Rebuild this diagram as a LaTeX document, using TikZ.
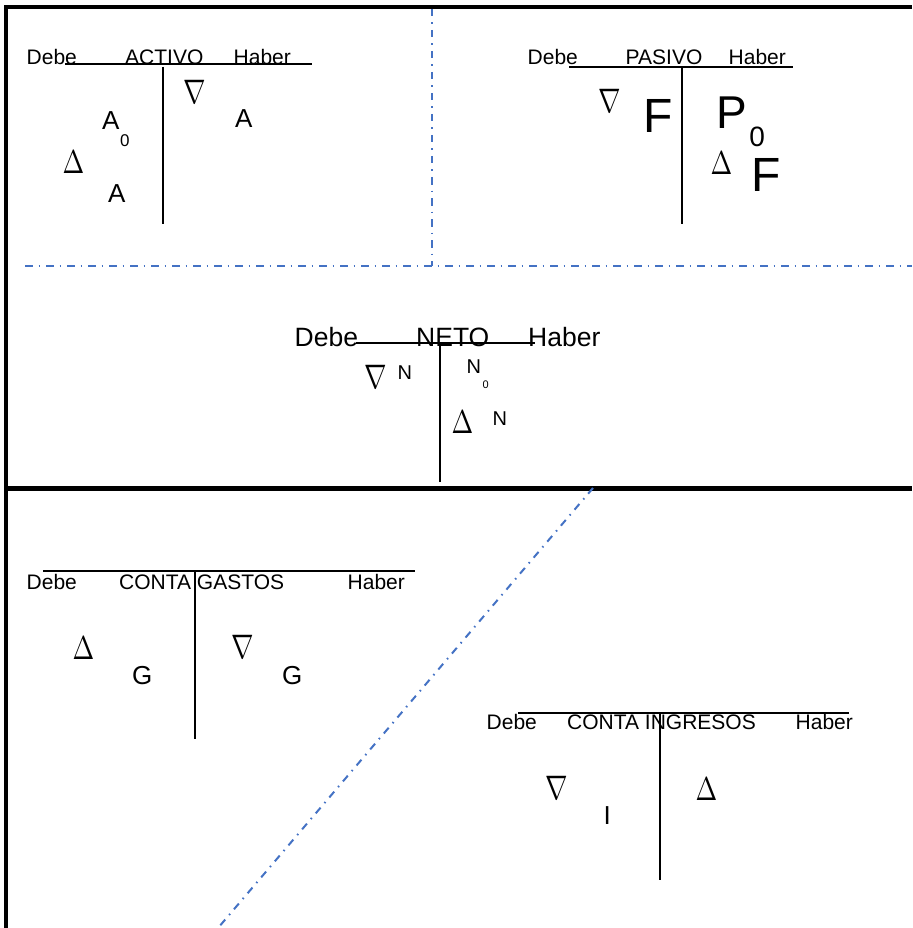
\documentclass[tikz,border=0pt]{standalone}
\usepackage{fontspec}
\setmainfont{Liberation Sans}
\usepackage{graphicx}
\definecolor{guideblue}{RGB}{68,114,196}
% increase / decrease signs
\newcommand\incsym{\scalebox{2.6}[3.3]{$\Delta$}}
\newcommand\decsym{\scalebox{2.7}[3.4]{$\nabla$}}
\tikzset{
  boxrule/.style={line width=4pt},
  guideline/.style={draw=guideblue, line width=2pt, dash pattern=on 7.5pt off 6pt on 1.5pt off 6pt},
  tbar/.style={line width=1.8pt},
  hdr/.style={anchor=base west, inner sep=0pt, font=\fontsize{21}{25}\selectfont},
  hdrbig/.style={anchor=base west, inner sep=0pt, font=\fontsize{26.5}{30}\selectfont},
  sym/.style={inner sep=0pt},
  var/.style={anchor=base west, inner sep=0pt, font=\fontsize{26}{30}\selectfont},
  varsmall/.style={anchor=base west, inner sep=0pt, font=\fontsize{20}{24}\selectfont},
  varhuge/.style={anchor=base west, inner sep=0pt, font=\fontsize{48}{52}\selectfont},
}
\begin{document}
\begin{tikzpicture}[x=1pt,y=-1pt]
\useasboundingbox (0,0) rectangle (912,928);

% outer frame and separator
\draw[boxrule] (912,7) -- (6,7) -- (6,928);
\draw[boxrule, line width=5pt] (6,488.5) -- (912,488.5);

% dash-dot guides
\draw[guideline] (432,9) -- (432,266);
\draw[guideline] (25,266) -- (912,266);
\draw[guideline] (593,488) -- (218,928);

% ---------- ACTIVO ----------
\draw[tbar] (65,64) -- (312,64);
\draw[tbar] (163,67) -- (163,224);
\node[hdr] (a-debe) at (26.5,65) {Debe};
\node[hdr] (a-tit) at (125,65) {ACTIVO};
\node[hdr] (a-haber) at (233.5,65) {Haber};
\node[sym] (a-dec) at (195,92) {\decsym};
\node[sym] (a-inc) at (73.5,162) {\incsym};
\node[var] (a-ini) at (102,130) {A\kern0.5pt\raisebox{-17pt}{\fontsize{17}{17}\selectfont 0}};
\node[var] (a-right) at (235,128) {A};
\node[var] (a-left) at (108,202) {A};

% ---------- PASIVO ----------
\draw[tbar] (569,67) -- (793,67);
\draw[tbar] (682,67) -- (682,224);
\node[hdr] (p-debe) at (527.5,65) {Debe};
\node[hdr] (p-tit) at (625.5,65) {PASIVO};
\node[hdr] (p-haber) at (728.5,65) {Haber};
\node[sym] (p-dec) at (610,101) {\decsym};
\node[varhuge] (p-left) at (643,133) {F};
\node[anchor=base west, inner sep=0pt, font=\fontsize{46}{50}\selectfont] (p-ini) at (716.5,129)
  {P\kern2pt\raisebox{-18pt}{\fontsize{28}{28}\selectfont 0}};
\node[sym] (p-inc) at (721.5,163) {\incsym};
\node[varhuge] (p-right) at (751,191) {F};

% ---------- NETO ----------
\draw[tbar] (356,343) -- (535,343);
\draw[tbar] (440,343) -- (440,482);
\node[hdrbig] (n-debe) at (294.5,346) {Debe};
\node[hdrbig] (n-tit) at (416,346) {NETO};
\node[hdrbig] (n-haber) at (528,346) {Haber};
\node[sym] (n-dec) at (376,377) {\decsym};
\node[varsmall] (n-left) at (397.5,379) {N};
\node[varsmall] (n-ini) at (466.5,373) {N\kern1.5pt\raisebox{-15pt}{\fontsize{11}{11}\selectfont 0}};
\node[sym] (n-inc) at (462.5,422.5) {\incsym};
\node[varsmall] (n-right) at (492.5,425) {N};

% ---------- CONTA GASTOS ----------
\draw[tbar] (43,571) -- (415,571);
\draw[tbar] (195,571) -- (195,739);
\node[hdr] (g-debe) at (26.5,589) {Debe};
\node[hdr] (g-tit) at (119,589) {CONTA GASTOS};
\node[hdr] (g-haber) at (347.5,589) {Haber};
\node[sym] (g-inc) at (83.5,648) {\incsym};
\node[var] (g-left) at (132,684) {G};
\node[sym] (g-dec) at (242.5,647) {\decsym};
\node[var] (g-right) at (282,684) {G};

% ---------- CONTA INGRESOS ----------
\draw[tbar] (518,713) -- (849,713);
\draw[tbar] (660,713) -- (660,880);
\node[hdr] (i-debe) at (486.5,729) {Debe};
\node[hdr] (i-tit) at (567,729) {CONTA INGRESOS};
\node[hdr] (i-haber) at (795.5,729) {Haber};
\node[sym] (i-dec) at (557,787.5) {\decsym};
\node[var] (i-left) at (603.5,824) {I};
\node[sym] (i-inc) at (706.5,789.5) {\incsym};
\end{tikzpicture}
\end{document}
